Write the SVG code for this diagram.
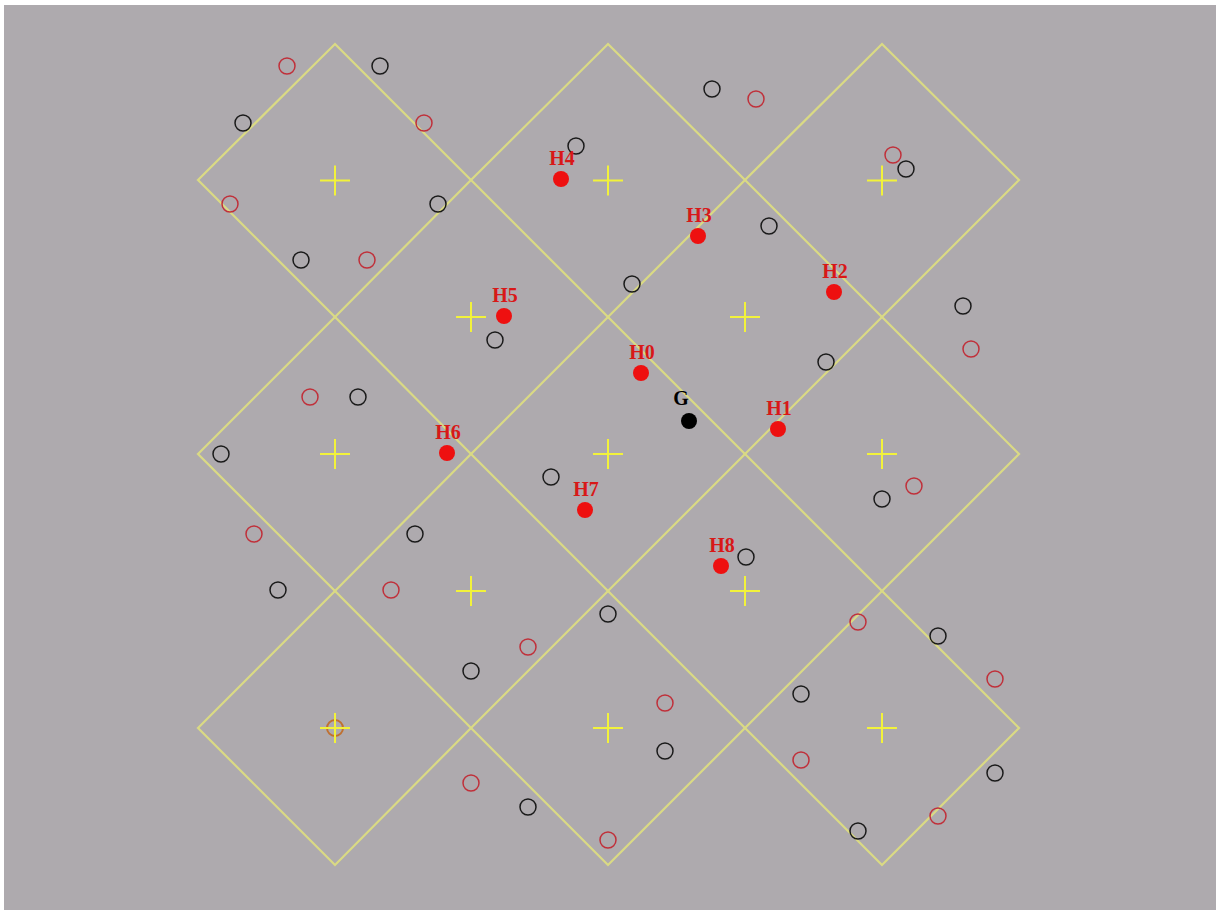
<svg xmlns="http://www.w3.org/2000/svg" width="1220" height="910" viewBox="0 0 1220 910">
<style>
.grid{fill:none;stroke:#dada84;stroke-width:2.2}
.cross{stroke:#f2f23a;stroke-width:2}
.ro{fill:none;stroke:#c0303a;stroke-width:1.5}
.bo{fill:none;stroke:#1a1a1a;stroke-width:1.5}
.h{fill:#ee1010}
.lbl{font-family:"Liberation Serif",serif;font-weight:bold;font-size:20px;fill:#d81818;text-anchor:middle}
.g{fill:#000}
.glbl{font-family:"Liberation Serif",serif;font-weight:bold;font-size:20px;fill:#000;text-anchor:middle}
</style>
<rect x="0" y="0" width="1220" height="910" fill="#ffffff"/>
<rect x="4" y="5" width="1212" height="905" fill="#aeaaae"/>
<g id="grid">
<polygon class="grid" points="335,44 471,180 335,317 198,180"/>
<polygon class="grid" points="608,44 745,180 608,317 471,180"/>
<polygon class="grid" points="882,44 1019,180 882,317 745,180"/>
<polygon class="grid" points="335,317 471,454 335,591 198,454"/>
<polygon class="grid" points="608,317 745,454 608,591 471,454"/>
<polygon class="grid" points="882,317 1019,454 882,591 745,454"/>
<polygon class="grid" points="335,591 471,728 335,865 198,728"/>
<polygon class="grid" points="608,591 745,728 608,865 471,728"/>
<polygon class="grid" points="882,591 1019,728 882,865 745,728"/>
</g>
<g id="circles">
<circle class="ro" cx="287" cy="66" r="8"/>
<circle class="ro" cx="424" cy="123" r="8"/>
<circle class="ro" cx="230" cy="204" r="8"/>
<circle class="ro" cx="367" cy="260" r="8"/>
<circle class="ro" cx="756" cy="99" r="8"/>
<circle class="ro" cx="893" cy="155" r="8"/>
<circle class="ro" cx="971" cy="349" r="8"/>
<circle class="ro" cx="310" cy="397" r="8"/>
<circle class="ro" cx="914" cy="486" r="8"/>
<circle class="ro" cx="254" cy="534" r="8"/>
<circle class="ro" cx="391" cy="590" r="8"/>
<circle class="ro" cx="528" cy="647" r="8"/>
<circle class="ro" cx="858" cy="622" r="8"/>
<circle class="ro" cx="995" cy="679" r="8"/>
<circle class="ro" cx="665" cy="703" r="8"/>
<circle class="ro" cx="801" cy="760" r="8"/>
<circle class="ro" cx="471" cy="783" r="8"/>
<circle class="ro" cx="608" cy="840" r="8"/>
<circle class="ro" cx="938" cy="816" r="8"/>
<circle cx="335" cy="728" r="8" fill="none" stroke="#c07030" stroke-width="2"/>
<circle class="bo" cx="380" cy="66" r="8"/>
<circle class="bo" cx="243" cy="123" r="8"/>
<circle class="bo" cx="438" cy="204" r="8"/>
<circle class="bo" cx="301" cy="260" r="8"/>
<circle class="bo" cx="712" cy="89" r="8"/>
<circle class="bo" cx="576" cy="146" r="8"/>
<circle class="bo" cx="906" cy="169" r="8"/>
<circle class="bo" cx="769" cy="226" r="8"/>
<circle class="bo" cx="632" cy="284" r="8"/>
<circle class="bo" cx="963" cy="306" r="8"/>
<circle class="bo" cx="495" cy="340" r="8"/>
<circle class="bo" cx="826" cy="362" r="8"/>
<circle class="bo" cx="358" cy="397" r="8"/>
<circle class="bo" cx="221" cy="454" r="8"/>
<circle class="bo" cx="551" cy="477" r="8"/>
<circle class="bo" cx="882" cy="499" r="8"/>
<circle class="bo" cx="415" cy="534" r="8"/>
<circle class="bo" cx="746" cy="557" r="8"/>
<circle class="bo" cx="278" cy="590" r="8"/>
<circle class="bo" cx="608" cy="614" r="8"/>
<circle class="bo" cx="938" cy="636" r="8"/>
<circle class="bo" cx="471" cy="671" r="8"/>
<circle class="bo" cx="801" cy="694" r="8"/>
<circle class="bo" cx="665" cy="751" r="8"/>
<circle class="bo" cx="995" cy="773" r="8"/>
<circle class="bo" cx="528" cy="807" r="8"/>
<circle class="bo" cx="858" cy="831" r="8"/>
</g>
<g id="crosses">
<path class="cross" d="M320,180.5H350M335,165.5V195.5"/>
<path class="cross" d="M593,180.5H623M608,165.5V195.5"/>
<path class="cross" d="M867,180.5H897M882,165.5V195.5"/>
<path class="cross" d="M456,317H486M471,302V332"/>
<path class="cross" d="M730,317H760M745,302V332"/>
<path class="cross" d="M320,454H350M335,439V469"/>
<path class="cross" d="M593,454H623M608,439V469"/>
<path class="cross" d="M867,454H897M882,439V469"/>
<path class="cross" d="M456,591H486M471,576V606"/>
<path class="cross" d="M730,591H760M745,576V606"/>
<path class="cross" d="M320,728H350M335,713V743"/>
<path class="cross" d="M593,728H623M608,713V743"/>
<path class="cross" d="M867,728H897M882,713V743"/>
</g>
<g id="H0"><circle class="h" cx="641" cy="373" r="8"/><text class="lbl" x="642" y="359">H0</text></g>
<g id="H1"><circle class="h" cx="778" cy="429" r="8"/><text class="lbl" x="779" y="415">H1</text></g>
<g id="H2"><circle class="h" cx="834" cy="292" r="8"/><text class="lbl" x="835" y="278">H2</text></g>
<g id="H3"><circle class="h" cx="698" cy="236" r="8"/><text class="lbl" x="699" y="222">H3</text></g>
<g id="H4"><circle class="h" cx="561" cy="179" r="8"/><text class="lbl" x="562" y="165">H4</text></g>
<g id="H5"><circle class="h" cx="504" cy="316" r="8"/><text class="lbl" x="505" y="302">H5</text></g>
<g id="H6"><circle class="h" cx="447" cy="453" r="8"/><text class="lbl" x="448" y="439">H6</text></g>
<g id="H7"><circle class="h" cx="585" cy="510" r="8"/><text class="lbl" x="586" y="496">H7</text></g>
<g id="H8"><circle class="h" cx="721" cy="566" r="8"/><text class="lbl" x="722" y="552">H8</text></g>
<g id="G"><circle class="g" cx="689" cy="421" r="8"/><text class="glbl" x="681" y="405">G</text></g>
</svg>
